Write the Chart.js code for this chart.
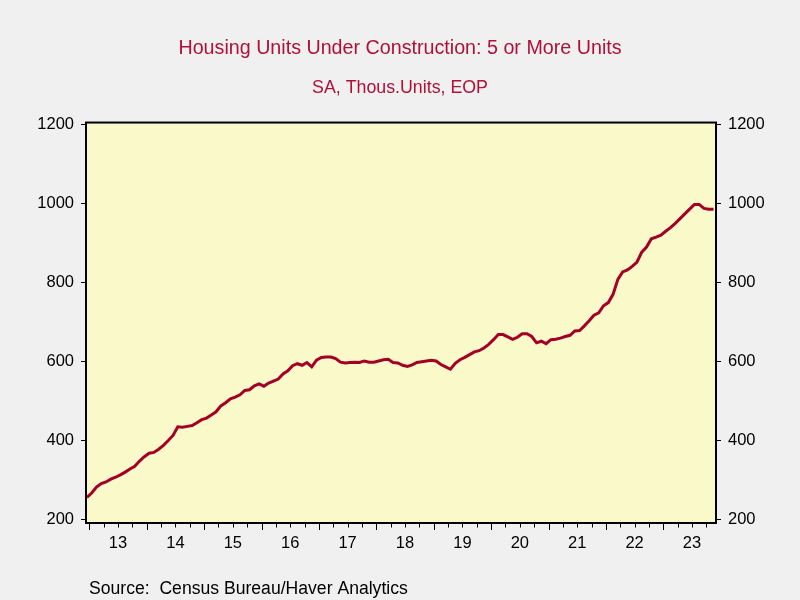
<!DOCTYPE html>
<html>
<head>
<meta charset="utf-8">
<script src="https://cdn.jsdelivr.net/npm/chart.js@4.4.0/dist/chart.umd.min.js"></script>
<style>
html,body{margin:0;padding:0;background:#f0f0f0;}
canvas{display:block;}
</style>
</head>
<body>
<canvas id="c" width="800" height="600"></canvas>
<script>
// ---- Data ----
const firstMonth = { year: 2012, month: 12 }; // monthly series, Dec 2012 .. Nov 2023
const values = [
  255,
  266, 281, 290, 294, 301, 306, 312, 319, 327, 334, 347, 358,   // 2013
  367, 369, 377, 387, 399, 412, 434, 433, 435, 437, 444, 452,   // 2014
  456, 464, 472, 487, 495, 505, 509, 515, 526, 528, 538, 543,   // 2015
  537, 545, 550, 555, 568, 576, 589, 594, 590, 597, 586, 603,   // 2016
  610, 611, 611, 607, 598, 596, 597, 598, 597, 601, 598, 598,   // 2017
  601, 604, 605, 597, 596, 590, 587, 591, 597, 599, 601, 603,   // 2018
  601, 592, 586, 580, 595, 604, 610, 617, 624, 627, 634, 643,   // 2019
  655, 668, 668, 662, 656, 661, 670, 670, 663, 647, 651, 645,   // 2020
  655, 656, 659, 663, 666, 677, 678, 690, 703, 717, 723, 741,   // 2021
  749, 770, 808, 827, 832, 841, 852, 877, 890, 911, 915, 920,   // 2022
  930, 939, 950, 962, 974, 986, 998, 998, 988, 986, 986         // 2023
];
const yearLabels = ['13','14','15','16','17','18','19','20','21','22','23'];
const yTicks = [200, 400, 600, 800, 1000, 1200];
const titleText = 'Housing Units Under Construction: 5 or More Units';
const subtitleText = 'SA, Thous.Units, EOP';
const sourceText = 'Source:  Census Bureau/Haver Analytics';

// ---- Build points (x = decimal year at mid-month) ----
const points = values.map((v, i) => {
  const m = firstMonth.month - 1 + i;
  const yr = firstMonth.year + Math.floor(m / 12);
  const mo = m % 12;
  return { x: yr + (mo + 0.5) / 12, y: v };
});
const yearTickValues = yearLabels.map(l => 2000 + Number(l) + 0.5);

const FONT = "'Liberation Sans', Arial, sans-serif";
const RED = '#a50026';
const TITLE_RED = '#b0103a';

const decorPlugin = {
  id: 'decor',
  beforeDraw(chart) {
    const { ctx, chartArea: a } = chart;
    ctx.save();
    ctx.fillStyle = '#f0f0f0';
    ctx.fillRect(0, 0, chart.width, chart.height);
    ctx.fillStyle = '#faf9ca';
    ctx.fillRect(a.left, a.top, a.right - a.left, a.bottom - a.top);
    ctx.restore();
  },
  afterDraw(chart) {
    const { ctx, chartArea: a } = chart;
    const xs = chart.scales.x;
    ctx.save();
    ctx.strokeStyle = '#000';
    ctx.lineWidth = 2;
    ctx.strokeRect(a.left, a.top, a.right - a.left, a.bottom - a.top);
    // quarterly tick marks, longer at year starts
    ctx.lineWidth = 1;
    ctx.beginPath();
    for (let q = Math.ceil(xs.min * 4) / 4; q <= xs.max; q += 0.25) {
      const px = Math.round(xs.getPixelForValue(q)) + 0.5;
      const len = Math.abs(q - Math.round(q)) < 1e-6 ? 6 : 3.5;
      ctx.moveTo(px, a.bottom + 1);
      ctx.lineTo(px, a.bottom + 1 + len);
    }
    ctx.stroke();
    // source note
    ctx.fillStyle = '#000';
    ctx.font = '17.6px ' + FONT;
    ctx.textAlign = 'left';
    ctx.textBaseline = 'alphabetic';
    ctx.fillText(sourceText, 89, 594);
    ctx.restore();
  }
};

const yAxisCommon = {
  type: 'linear',
  min: 189.9,
  max: 1205.8,
  afterBuildTicks: s => { s.ticks = yTicks.map(v => ({ value: v })); },
  ticks: {
    color: '#000', font: { size: 16.5, family: FONT }, padding: 7, autoSkip: false,
    callback: v => String(v)
  },
  grid: { display: true, drawOnChartArea: false, drawTicks: true, tickLength: 5, tickColor: '#000', tickWidth: 1 },
  border: { display: false }
};

new Chart(document.getElementById('c'), {
  type: 'line',
  data: {
    datasets: [{
      data: points,
      borderColor: RED,
      borderWidth: 3,
      pointRadius: 0,
      tension: 0,
      fill: false
    }]
  },
  options: {
    responsive: false,
    animation: false,
    devicePixelRatio: 1,
    layout: { padding: 0 },
    plugins: {
      legend: { display: false },
      tooltip: { enabled: false },
      title: {
        display: true, text: titleText, color: TITLE_RED,
        font: { size: 19.7, family: FONT, weight: 'normal', lineHeight: 1.2 },
        padding: { top: 37.2, bottom: 16.5 }
      },
      subtitle: {
        display: true, text: subtitleText, color: TITLE_RED,
        font: { size: 17.8, family: FONT, weight: 'normal', lineHeight: 1.2 },
        padding: { top: 0, bottom: 23.84 }
      }
    },
    scales: {
      x: {
        type: 'linear',
        min: 2012.9425,
        max: 2023.918,
        afterBuildTicks: s => { s.ticks = yearTickValues.map(v => ({ value: v })); },
        ticks: {
          color: '#000', font: { size: 16.5, family: FONT }, padding: 11,
          autoSkip: false, maxRotation: 0,
          callback: (v, i) => yearLabels[i]
        },
        grid: { display: false, drawTicks: false },
        border: { display: false },
        afterFit: s => { s.height = 77; }
      },
      y: Object.assign({}, yAxisCommon, { position: 'left', afterFit: s => { s.width = 86; } }),
      y2: Object.assign({}, yAxisCommon, { position: 'right', afterFit: s => { s.width = 84; } })
    }
  },
  plugins: [decorPlugin]
});
</script>
</body>
</html>
